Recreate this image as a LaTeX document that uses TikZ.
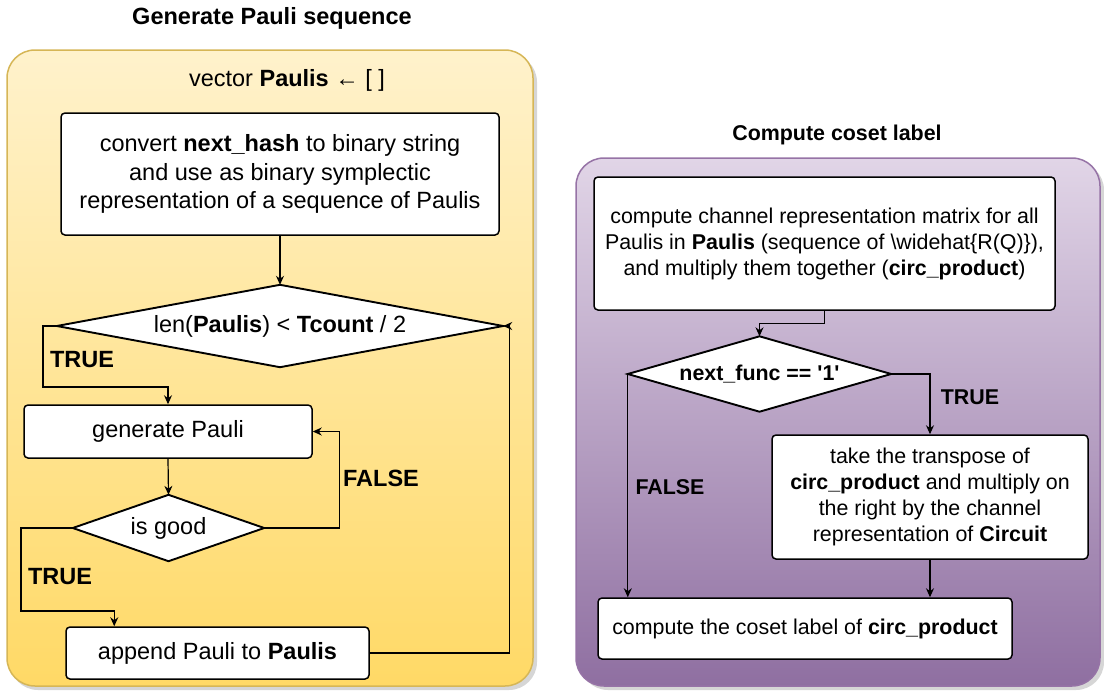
\documentclass[tikz,border=0pt]{standalone}
\usepackage{fontspec}
\setmainfont{Liberation Sans}
\usetikzlibrary{arrows.meta,calc}

\definecolor{ylwtop}{HTML}{FFF2CC}
\definecolor{ylwbot}{HTML}{FFD966}
\definecolor{ylwline}{HTML}{D6B656}
\definecolor{prptop}{HTML}{E1D5E7}
\definecolor{prpbot}{HTML}{8F6FA1}
\definecolor{prpline}{HTML}{9673A6}

\tikzset{
  panelshadow/.style={fill=black, opacity=0.16, rounded corners=28pt},
  stepbox/.style={draw, fill=white, rounded corners=4pt, line width=1.5pt,
    inner sep=0pt, align=center},
  decbox/.style={inner sep=0pt, align=center},
  decline/.style={draw, fill=white, line width=1.9pt, line join=miter},
  conn/.style={line width=1.2pt, -{Stealth[length=9pt,width=8pt]}},
  lfont/.style={font=\fontsize{23.5}{28.5}\selectfont},
  rfont/.style={font=\fontsize{21.4}{26}\selectfont},
  lbold/.style={font=\fontsize{23.5}{28.5}\selectfont\bfseries},
  rbold/.style={font=\fontsize{21.4}{26}\selectfont\bfseries},
}

\begin{document}
\begin{tikzpicture}[x=1pt, y=-1pt]
\useasboundingbox (0,0) rectangle (1104,694);

% ---------- panel backgrounds ----------
\fill[panelshadow] (10,54) rectangle (537,690);
\path[shading=axis, top color=ylwtop, bottom color=ylwbot, draw=ylwline,
      line width=1.5pt, rounded corners=28pt] (7,50) rectangle (533,686);
\fill[panelshadow] (580,162) rectangle (1104,690);
\path[shading=axis, top color=prptop, bottom color=prpbot, draw=prpline,
      line width=1.5pt, rounded corners=28pt] (576,158) rectangle (1100,686);

% ---------- left: Generate Pauli sequence ----------
\begin{scope}[lfont]
\node[lbold] (ttlL) at (272,18) {Generate Pauli sequence};
\node (init) at (287,80) {vector \textbf{Paulis} ← [ ]};

\node[stepbox, minimum width=438pt, minimum height=122pt] (b1) at (280,174)
  {convert \textbf{next\_hash} to binary string\\
   and use as binary symplectic\\
   representation of a sequence of Paulis};

\node[decbox, minimum width=446pt, minimum height=82pt] (d1) at (280,326) {};
\draw[decline] (d1.north) -- (d1.east) -- (d1.south) -- (d1.west) -- cycle;
\node at (d1.center) {len(\textbf{Paulis}) < \textbf{Tcount} / 2};

\node[stepbox, minimum width=288pt, minimum height=53pt] (gen) at (168,431.5)
  {generate Pauli};

\node[decbox, minimum width=191pt, minimum height=66pt] (d2) at (168.5,528) {};
\draw[decline] (d2.north) -- (d2.east) -- (d2.south) -- (d2.west) -- cycle;
\node at (d2.center) {is good};

\node[stepbox, minimum width=303pt, minimum height=52pt] (app) at (217.5,653)
  {append Pauli to \textbf{Paulis}};

\coordinate (t1) at (43,387);
\coordinate (t2) at (21,611);
\coordinate (appin) at ($(app.north west)+(49,0)$);

\draw[conn] (b1.south) -- (d1.north);
\draw[conn] (d1.west) -| (t1) -| (gen.north);
\draw[conn] (gen.south) -- (d2.north);
\draw[conn] (d2.east) -| ($(gen.east)+(27,0)$) -- (gen.east);
\draw[conn] (d2.west) -| (t2) -| (appin);
\draw[conn] (app.east) -| ($(d1.east)+(6,0)$) -- (d1.east);

\node[lbold] (lt1) at (82,360) {TRUE};
\node[lbold] (lf1) at (381,478) {FALSE};
\node[lbold] (lt2) at (60,577) {TRUE};
\end{scope}

% ---------- right: Compute coset label ----------
\begin{scope}[rfont]
\node[rbold] (ttlR) at (837,135) {Compute coset label};

\node[stepbox, minimum width=461pt, minimum height=133pt] (bA) at (824.5,243.5)
  {compute channel representation matrix for all\\
   Paulis in \textbf{Paulis} (sequence of \textbackslash widehat\{R(Q)\}),\\
   and multiply them together (\textbf{circ\_product})};

\node[decbox, minimum width=263pt, minimum height=75pt] (d3) at (759.5,374) {};
\draw[decline] (d3.north) -- (d3.east) -- (d3.south) -- (d3.west) -- cycle;
\node[rbold] at (d3.center) {next\_func == \textquotesingle1\textquotesingle};

\node[stepbox, minimum width=316pt, minimum height=124pt] (bB) at (930,497)
  {take the transpose of\\
   \textbf{circ\_product} and multiply on\\
   the right by the channel\\
   representation of \textbf{Circuit}};

\node[stepbox, minimum width=414pt, minimum height=61pt] (bC) at (805,628.5)
  {compute the coset label of \textbf{circ\_product}};

\draw[conn] (bA.south) -- ++(0,13) -| (d3.north);
\draw[conn] (d3.east) -| (bB.north);
\draw[conn] (bB.south) -- (bB.south |- bC.north);
\draw[conn] (d3.west) -- (d3.west |- bC.north);

\node[rbold] (rt) at (970,397) {TRUE};
\node[rbold] (rf) at (670,487) {FALSE};
\end{scope}
\end{tikzpicture}
\end{document}
